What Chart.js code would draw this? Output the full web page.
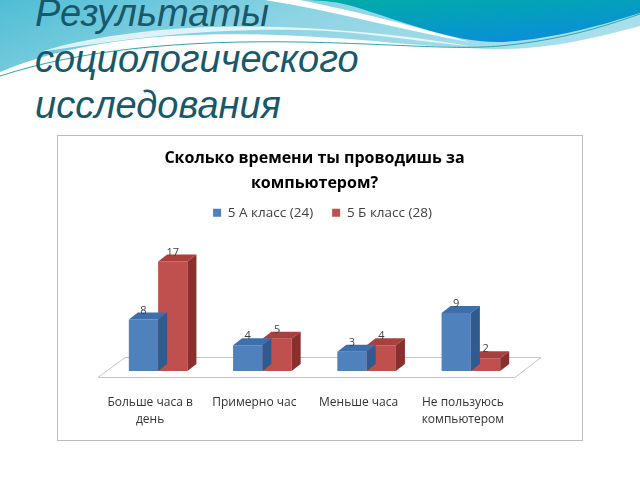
<!DOCTYPE html>
<html><head><meta charset="utf-8">
<script src="https://cdn.jsdelivr.net/npm/chart.js@4.4.1/dist/chart.umd.min.js"></script>
<style>
html,body{margin:0;padding:0;background:#fff;width:640px;height:480px;overflow:hidden;position:relative;}
#bg{position:absolute;left:0;top:0;}
#slideTitle{position:absolute;left:35px;top:-10px;font-family:"Liberation Sans",Arial,sans-serif;font-style:italic;font-size:38px;line-height:46px;color:#17586a;white-space:nowrap;}
#box{position:absolute;left:57px;top:135px;width:526px;height:306px;border:1px solid #bcbcbc;box-sizing:border-box;background:#fff;}
#c{display:block;}
</style></head>
<body>
<svg id="bg" width="640" height="130" viewBox="0 0 640 130">
<defs>
<linearGradient id="lb" x1="0" y1="0" x2="1" y2="0.3">
<stop offset="0" stop-color="#4fbdd4"/><stop offset="0.5" stop-color="#8fd4e4"/><stop offset="1" stop-color="#a9dfea"/>
</linearGradient>
<linearGradient id="db" x1="0" y1="0" x2="0.6" y2="1">
<stop offset="0" stop-color="#00ada6"/><stop offset="1" stop-color="#0a8fd8"/>
</linearGradient>
</defs>
<path d="M0,0 H640 V26 C590,40 540,50 495,49 C430,48 380,40 300,36 C200,31 90,34 0,72 Z" fill="url(#lb)"/>
<path d="M40,52 C120,40 200,28 300,30 C360,31 420,42 470,46 C360,28 250,22 160,30 C110,35 70,42 40,52 Z" fill="#ffffff" opacity="0.75"/>
<path d="M265,0 C330,10 400,30 470,42 C400,22 340,8 300,0 Z" fill="#ffffff"/>
<path d="M310,0 H640 V13 C600,26 545,41 497,42 C452,42 405,22 352,6 C338,2 325,1 310,0 Z" fill="url(#db)"/>
<path d="M0,76 C80,50 180,40 300,42 C400,44 450,50 500,46 C560,40 600,28 640,14" fill="none" stroke="#2aa6b0" stroke-width="1"/>
</svg>
<div id="slideTitle">Результаты<br>социологического<br>исследования</div>
<div id="box"><canvas id="c" width="524" height="304"></canvas></div>
<script>
const categories = [["Больше часа в","день"],"Примерно час","Меньше часа",["Не пользуюсь","компьютером"]];
const seriesA = [8,4,3,9];
const seriesB = [17,5,4,2];
const seriesNames = ["5 А класс (24)","5 Б класс (28)"];
const chartTitle = ["Сколько времени ты проводишь за","компьютером?"];

const DX = 9, DY = 7;
const faces = [
  {front:"#4f81bd", top:"#3f6fab", side:"#2f5b8f"},
  {front:"#c0504d", top:"#a9403d", side:"#8a2f2d"}
];

const floorPlugin = {
  id:"floor3d",
  afterLayout(chart){
    if (chart.legend) { chart.legend.left += 8; chart.legend.right += 8; }
  },
  beforeDatasetsDraw(chart){
    const {ctx, scales:{x,y}} = chart;
    const z = y.getPixelForValue(0);
    ctx.save();
    ctx.beginPath();
    ctx.moveTo(x.left-8, z+6.5);
    ctx.lineTo(x.right-8, z+6.5);
    ctx.lineTo(x.right+18, z-13.5);
    ctx.lineTo(x.left+19, z-13.5);
    ctx.closePath();
    ctx.fillStyle="#ffffff"; ctx.fill();
    ctx.strokeStyle="#c4c4c4"; ctx.lineWidth=1; ctx.stroke();
    ctx.restore();
  },
  afterDatasetDraw(chart, args){
    const {ctx} = chart;
    const meta = args.meta;
    const f = faces[args.index];
    const z = chart.scales.y.getPixelForValue(0);
    ctx.save();
    meta.data.forEach(bar=>{
      const p = bar.getProps(["x","y","width","base"], true);
      const x0 = p.x - p.width/2, x1 = p.x + p.width/2, t = p.y;
      ctx.beginPath();
      ctx.moveTo(x0,t); ctx.lineTo(x1,t); ctx.lineTo(x1+DX,t-DY); ctx.lineTo(x0+DX,t-DY); ctx.closePath();
      ctx.fillStyle=f.top; ctx.fill();
      ctx.beginPath();
      ctx.moveTo(x1,t); ctx.lineTo(x1+DX,t-DY); ctx.lineTo(x1+DX,z-DY); ctx.lineTo(x1,z); ctx.closePath();
      ctx.fillStyle=f.side; ctx.fill();
    });
    ctx.restore();
  },
  afterDatasetsDraw(chart){
    const {ctx} = chart;
    ctx.save();
    ctx.font = "11px 'Open Sans', sans-serif";
    ctx.fillStyle = "#404040";
    ctx.textAlign = "center";
    ctx.textBaseline = "alphabetic";
    chart.data.datasets.forEach((ds,i)=>{
      chart.getDatasetMeta(i).data.forEach((bar,j)=>{
        const p = bar.getProps(["x","y"], true);
        ctx.fillText(String(ds.data[j]), p.x, p.y - 6);
      });
    });
    ctx.restore();
  }
};

new Chart(document.getElementById("c"), {
  type:"bar",
  data:{
    labels: categories,
    datasets:[
      {label:seriesNames[0], data:seriesA, backgroundColor:faces[0].front, borderWidth:0},
      {label:seriesNames[1], data:seriesB, backgroundColor:faces[1].front, borderWidth:0}
    ]
  },
  options:{
    responsive:false,
    animation:false,
    devicePixelRatio:1,
    layout:{padding:{left:48,right:59,top:0,bottom:11}},
    datasets:{bar:{barPercentage:1.0, categoryPercentage:0.562}},
    plugins:{
      title:{display:true, text:chartTitle, color:"#000000",
        font:{family:"'Open Sans', sans-serif", size:16, weight:"bold", lineHeight:1.56},
        padding:{top:10,bottom:-9}},
      legend:{display:true, labels:{boxWidth:8, boxHeight:8, color:"#404040",
        font:{family:"'Open Sans', sans-serif", size:13.5}, padding:19}},
      tooltip:{enabled:false}
    },
    scales:{
      x:{grid:{display:false, drawTicks:false}, border:{display:false},
        afterFit:(s)=>{ s.height = 58; },
        ticks:{color:"#333333", labelOffset:-8, padding:23, maxRotation:0, autoSkip:false,
          font:{family:"'Open Sans', sans-serif", size:12, lineHeight:1.44}}},
      y:{display:false, min:0, max:22}
    }
  },
  plugins:[floorPlugin]
});
</script>
</body></html>
